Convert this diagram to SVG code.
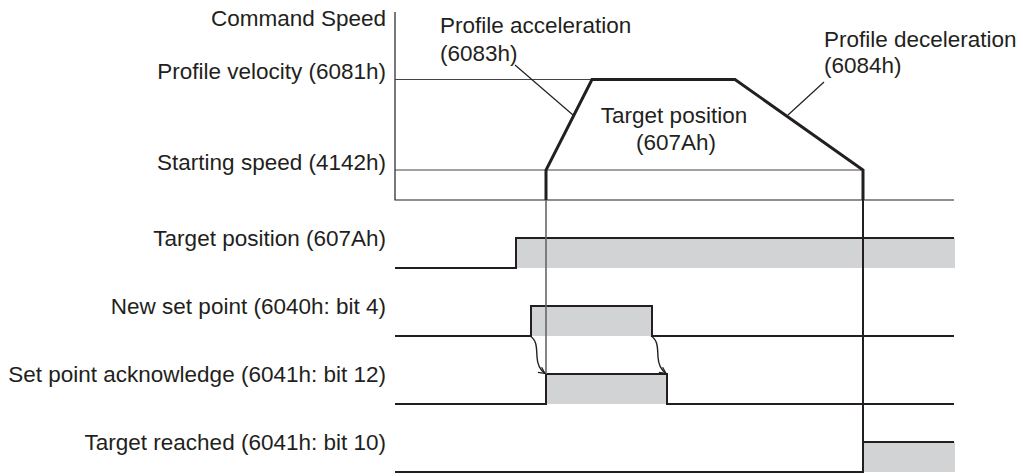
<svg xmlns="http://www.w3.org/2000/svg" width="1022" height="474" viewBox="0 0 1022 474">
<style>
text{font-family:"Liberation Sans",Arial,sans-serif;font-size:22.5px;fill:#231f20}
.r{text-anchor:end}
.m{text-anchor:middle}
.sig{fill:none;stroke:#231f20;stroke-width:2}
.thin{fill:none;stroke:#231f20;stroke-width:1.2}
.ref{fill:none;stroke:#444;stroke-width:1.2}
.prof{fill:none;stroke:#231f20;stroke-width:3;stroke-linejoin:miter}
.shade{fill:#d1d3d4}
.cur{fill:none;stroke:#231f20;stroke-width:1.4;marker-end:url(#ah)}
</style>
<defs>
<marker id="ah" viewBox="0 0 10 10" refX="9" refY="5" markerWidth="8" markerHeight="8" markerUnits="userSpaceOnUse" orient="auto">
<path d="M1,1 L9,5 L1,9" fill="none" stroke="#231f20" stroke-width="1.6"/>
</marker>
</defs>
<rect width="1022" height="474" fill="#fff"/>

<g id="shading">
<rect class="shade" x="516" y="238" width="439" height="30"/>
<rect class="shade" x="531" y="306" width="121" height="30"/>
<rect class="shade" x="546" y="374" width="121" height="30"/>
<rect class="shade" x="863" y="442" width="92" height="30"/>
</g>

<g id="speed-chart">
<path class="thin" d="M395,12 V200 H954"/>
<path class="ref" d="M395,79.5 H592"/>
<path class="ref" d="M395,170 H863"/>
<path class="prof" d="M546,200 V170 L592,79.5 H735 L863,170 V200"/>
<text class="r" x="386" y="26">Command Speed</text>
<text class="r" x="386" y="79">Profile velocity (6081h)</text>
<text class="r" x="386" y="170">Starting speed (4142h)</text>
</g>

<g id="label-accel">
<text x="440" y="33">Profile acceleration</text>
<text x="440" y="61">(6083h)</text>
<path class="thin" d="M515,65 L573,115"/>
</g>

<g id="label-target">
<text class="m" x="674" y="123">Target position</text>
<text class="m" x="676" y="150">(607Ah)</text>
</g>

<g id="label-decel">
<text x="824" y="47">Profile deceleration</text>
<text x="824" y="73">(6084h)</text>
<path class="thin" d="M824,82 L788,115"/>
</g>

<g id="sig-target-position">
<text class="r" x="386" y="246">Target position (607Ah)</text>
<path class="sig" d="M395,268 H516 V238 H954"/>
</g>

<g id="sig-new-set-point">
<text class="r" x="386" y="314">New set point (6040h: bit 4)</text>
<path class="sig" d="M395,336 H531 V306 H652 V336 H954"/>
</g>

<g id="sig-ack">
<text class="r" x="386" y="382">Set point acknowledge (6041h: bit 12)</text>
<path class="sig" d="M395,404 H546 V374 H667 V404 H954"/>
</g>

<g id="sig-target-reached">
<text class="r" x="386" y="450">Target reached (6041h: bit 10)</text>
<path class="sig" d="M395,472 H863 V442 H954"/>
</g>

<g id="connectors">
<path d="M546,200 V374" fill="none" stroke="#666" stroke-width="1.6"/>
<path d="M863,200 V472" fill="none" stroke="#231f20" stroke-width="2"/>
<path class="cur" d="M530,336 C537,340 536.5,348 537,357 C537.5,366 540,370 545,373.5"/>
<path class="cur" d="M651,336 C658,340 657.5,348 658,357 C658.5,366 661,370 666,373.5"/>
</g>
</svg>
